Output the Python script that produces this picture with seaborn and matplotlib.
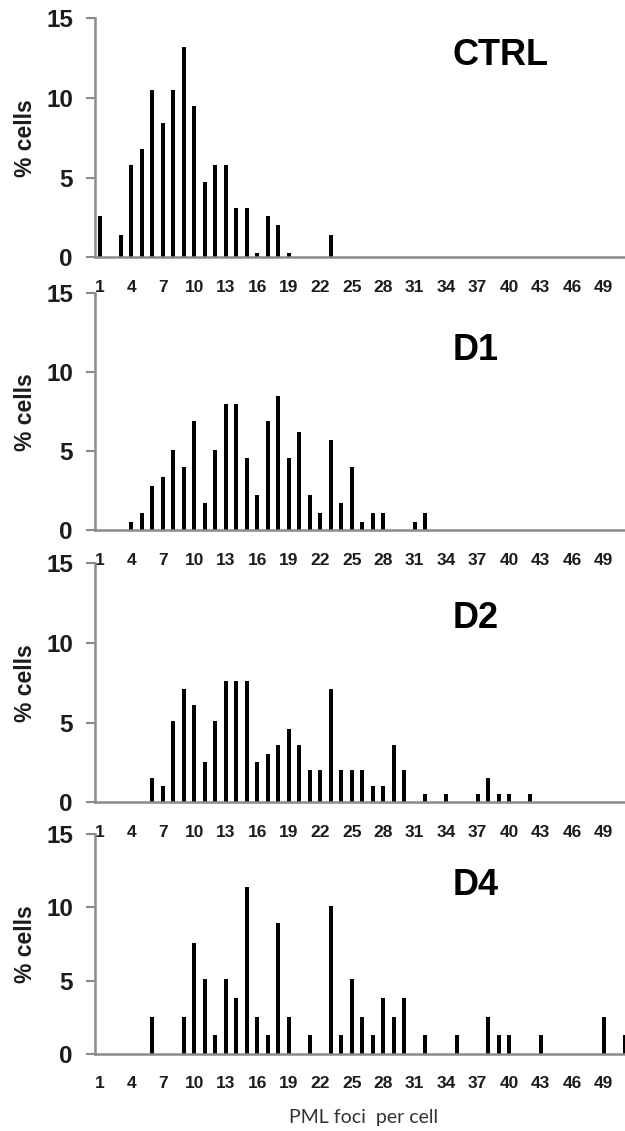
import matplotlib
matplotlib.use('Agg')
import matplotlib.pyplot as plt
import seaborn as sns
import pandas as pd

# % of cells per number of PML foci (categories 1..51)
foci = list(range(1, 52))

ctrl = [2.6, 0, 1.4, 5.8, 6.8, 10.5, 8.4, 10.5, 13.2, 9.5,
        4.7, 5.8, 5.8, 3.1, 3.1, 0.3, 2.6, 2.0, 0.3, 0,
        0, 0, 1.4, 0, 0, 0, 0, 0, 0, 0,
        0, 0, 0, 0, 0, 0, 0, 0, 0, 0,
        0, 0, 0, 0, 0, 0, 0, 0, 0, 0,
        0]

d1 = [0, 0, 0, 0.5, 1.1, 2.8, 3.4, 5.1, 4.0, 6.9,
      1.7, 5.1, 8.0, 8.0, 4.6, 2.2, 6.9, 8.5, 4.6, 6.2,
      2.2, 1.1, 5.7, 1.7, 4.0, 0.5, 1.1, 1.1, 0, 0,
      0.5, 1.1, 0, 0, 0, 0, 0, 0, 0, 0,
      0, 0, 0, 0, 0, 0, 0, 0, 0, 0,
      0]

d2 = [0, 0, 0, 0, 0, 1.5, 1.0, 5.1, 7.1, 6.1,
      2.5, 5.1, 7.6, 7.6, 7.6, 2.5, 3.0, 3.6, 4.6, 3.6,
      2.0, 2.0, 7.1, 2.0, 2.0, 2.0, 1.0, 1.0, 3.6, 2.0,
      0, 0.5, 0, 0.5, 0, 0, 0.5, 1.5, 0.5, 0.5,
      0, 0.5, 0, 0, 0, 0, 0, 0, 0, 0,
      0]

d4 = [0, 0, 0, 0, 0, 2.5, 0, 0, 2.5, 7.6,
      5.1, 1.3, 5.1, 3.8, 11.4, 2.5, 1.3, 8.9, 2.5, 0,
      1.3, 0, 10.1, 1.3, 5.1, 2.5, 1.3, 3.8, 2.5, 3.8,
      0, 1.3, 0, 0, 1.3, 0, 0, 2.5, 1.3, 1.3,
      0, 0, 1.3, 0, 0, 0, 0, 0, 2.5, 0,
      1.3]

names = ['CTRL', 'D1', 'D2', 'D4']
x_labels = list(range(1, 50, 3))
x_marks = [0.5 + 5 * i for i in range(11)]
y_ticks = [0, 5, 10, 15]

sns.set_style('white')
plt.rcParams['font.family'] = ['Liberation Sans', 'DejaVu Sans']

W, H = 625, 1131
fig = plt.figure(figsize=(W / 100, H / 100), dpi=100)

grey = '#8a8a8a'
txt = '#1c1c1c'
# pixel rows: (top, bottom) of each panel, label y-position in axes fraction
rows = [(18.3, 257.3, 0.846), (293, 530.3, 0.758), (563, 802.3, 0.770), (834, 1054, 0.768)]
left_px = 94.5

for name, vals, (top, bot, ly) in zip(names, [ctrl, d1, d2, d4], rows):
    ax = fig.add_axes([left_px / W, 1 - bot / H, (W - left_px) / W, (bot - top) / H])
    ax.set_facecolor('none')
    df = pd.DataFrame({'foci': foci, 'pct': vals})
    sns.barplot(data=df, x='foci', y='pct', native_scale=True, width=0.36,
                color='black', saturation=1, linewidth=0, errorbar=None, ax=ax)
    ax.set(xlabel='', ylabel='')
    ax.set_xlim(0.5, 0.5 + (W - left_px) / 10.5)
    ax.set_ylim(0, 15)

    sns.despine(ax=ax)
    for s in ['left', 'bottom']:
        ax.spines[s].set_color(grey)
        ax.spines[s].set_linewidth(1.8)

    ax.set_xticks(x_labels)
    ax.set_xticklabels([str(v) for v in x_labels], fontweight='bold')
    ax.set_xticks(x_marks, minor=True)
    ax.tick_params(axis='x', which='major', length=0, pad=16, labelsize=12.5, labelcolor=txt)
    ax.tick_params(axis='x', which='minor', length=5, width=1.5, color=grey, direction='out')

    ax.set_yticks(y_ticks)
    ax.set_yticklabels([str(v) for v in y_ticks], fontweight='bold')
    ax.tick_params(axis='y', length=6.5, width=1.5, color=grey, direction='out',
                   pad=9, labelsize=17.5, labelcolor=txt, left=True)

    ax.text(-0.131, 0.5, '% cells', transform=ax.transAxes, rotation=90,
            ha='center', va='center', fontsize=16.5, fontweight='bold', color=txt)
    ax.text(0.675, ly, name, transform=ax.transAxes, ha='left', va='center',
            fontsize=26, fontweight='bold', color='black')

fig.text(363.5 / W, 1 - 1118 / H, 'PML foci  per cell', ha='center', va='center',
         fontsize=14, color='#333333', family=['Lato', 'DejaVu Sans'])

fig.savefig('out.png', dpi=100)
